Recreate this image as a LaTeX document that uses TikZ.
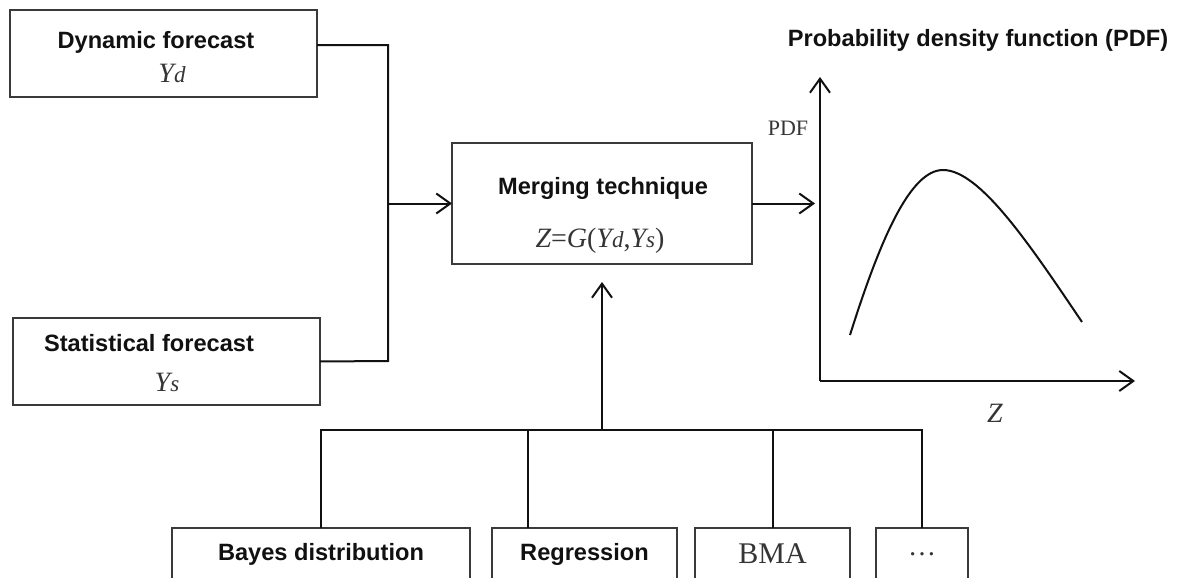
\documentclass[tikz,border=0pt]{standalone}
\usepackage{fontspec}
\setmainfont{Liberation Serif}
\newfontfamily\hdfont{Liberation Sans}
\usepackage{tikz}
\usetikzlibrary{arrows.meta,positioning,calc}
\definecolor{ink}{HTML}{111111}
\definecolor{frame}{HTML}{3A3A3A}
\newcommand{\sm}[1]{{\fontsize{11.5}{13}\selectfont #1}}
\tikzset{
  >={Straight Barb[length=7pt,width=10pt]},
  box/.style={draw=frame,line width=1pt,inner sep=0pt,outer sep=0pt,fill=white},
  ttl/.style={font=\hdfont\bfseries\fontsize{11.8}{14}\selectfont,text=ink,inner sep=0pt},
  mth/.style={font=\fontsize{14}{16}\selectfont,text=ink!85,inner sep=0pt},
  lab/.style={font=\fontsize{11}{13}\selectfont,text=ink!85,inner sep=0pt},
  line/.style={draw=ink,line width=1pt},
  arr/.style={->,draw=ink,line width=1pt},
}
\begin{document}
\begin{tikzpicture}[x=0.5pt,y=-0.5pt]
\useasboundingbox (0,0) rectangle (1180,578);
\clip (0,0) rectangle (1180,578);
% inputs
\node[box,minimum width=153.5pt,minimum height=43.5pt] (dyn) at (163.5,53.5) {};
\node[ttl] (dynt) at (156,42) {Dynamic forecast};
\node[mth] (dynm) at (172,73) {\itshape Y\sm{d}};
\node[box,minimum width=153.5pt,minimum height=43.5pt] (stat) at (166.5,361.5) {};
\node[ttl] (statt) at (149,343) {Statistical forecast};
\node[mth] (statm) at (167,382) {\itshape Y\sm{s}};
% merging
\node[box,minimum width=150pt,minimum height=60.5pt] (m) at (602,203.5) {};
\node[ttl] (mt) at (603,188) {Merging technique};
\node[mth] (mf) at (600,241) {{\itshape Z}={\itshape G}({\itshape Y\sm{d}},{\itshape Y\sm{s}})};
\coordinate (js) at (388,361);
\coordinate (jm) at (js |- m.west);
\draw[line] ([yshift=4.25pt]dyn.east) -| (js) -- (stat.east);
\draw[arr] (jm) -- (m.west);
% methods
\node[box,minimum width=149pt,minimum height=26pt] (bayes) at (321,554) {};
\node[ttl] at (bayes) {Bayes distribution};
\node[box,minimum width=92.5pt,minimum height=26pt] (regr) at (584.5,554) {};
\node[ttl] at (regr) {Regression};
\node[box,minimum width=77.5pt,minimum height=26pt] (bma) at (772.5,554) {};
\node[mth,font=\fontsize{15}{17}\selectfont] at (bma) {BMA};
\node[box,minimum width=46pt,minimum height=26pt] (dots) at (922,554) {};
\node[mth] at (dots) {\dots};
\coordinate (busl) at (bayes.north |- 0,430);
\coordinate (busr) at (dots.north |- 0,430);
\coordinate (rg) at ([xshift=18pt]regr.north west);
\draw[line] (bayes.north) -- (busl) -- (busr) -- (dots.north);
\draw[line] (rg) -- (rg |- busl);
\draw[line] (bma.north) -- (bma.north |- busl);
\draw[arr,shorten >=9pt] (busl -| m.south) -- (m.south);
% pdf plot
\coordinate (o) at (820,381);
\coordinate (ytop) at (820,77);
\coordinate (xend) at (1135,381);
\draw[arr] (o) -- (ytop);
\draw[arr] (o) -- (xend);
\draw[arr,shorten >=2.5pt] (m.east) -- (m.east -| o);
\draw[line] (850,335) .. controls (880,240) and (910,170) .. (943,170)
  .. controls (980,170) and (1030,245) .. (1082,322);
\node[lab] (ylab) at (788,128) {PDF};
\node[mth,font=\fontsize{14}{16}\selectfont\itshape] (xlab) at (995,413) {Z};
\node[ttl] (pt) at (978,40) {Probability density function (PDF)};
\end{tikzpicture}
\end{document}
